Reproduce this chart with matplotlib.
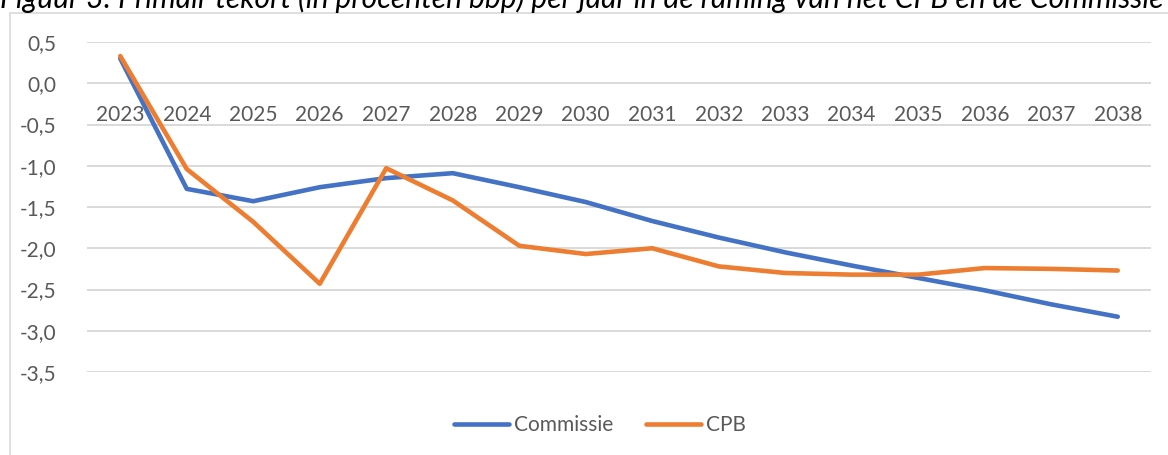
import matplotlib
matplotlib.use("Agg")
import matplotlib.pyplot as plt
from matplotlib.patches import Rectangle

plt.rcParams['font.family'] = ['Lato', 'DejaVu Sans']

# data
years = [str(y) for y in range(2023, 2039)]
commissie = [0.30, -1.28, -1.43, -1.26, -1.15, -1.09, -1.26, -1.44,
             -1.67, -1.87, -2.05, -2.21, -2.36, -2.51, -2.68, -2.83]
cpb = [0.33, -1.04, -1.68, -2.43, -1.03, -1.42, -1.97, -2.07,
       -2.00, -2.22, -2.30, -2.32, -2.32, -2.24, -2.25, -2.27]
yticks = [0.5, 0.0, -0.5, -1.0, -1.5, -2.0, -2.5, -3.0, -3.5]

title = ("Figuur 3: Primair tekort (in procenten bbp) per jaar in de raming "
         "van het CPB en de Commissie")

W, H = 1168, 455
fig = plt.figure(figsize=(W / 100, H / 100), dpi=100)

# chart frame (clipped at right and bottom like the source screenshot)
fig.patches.append(Rectangle((10 / W, -0.1), 1.2, 1 - 13 / H + 0.1,
                             transform=fig.transFigure, fill=False,
                             edgecolor='#d9d9d9', linewidth=1.2))

# title, cut off at the top edge as in the source
t = fig.text(0 / W, 1 - 8 / H, title, fontstyle='italic', color='black',
             fontsize=17, ha='left', va='baseline')
fig.canvas.draw()
w = t.get_window_extent().width
t.set_fontsize(17 * 1165 / w)

ax = fig.add_axes([87 / W, 1 - 372 / H, (1151 - 87) / W, (372 - 42) / H])
x = list(range(len(years)))
ax.plot(x, commissie, color='#4472C4', lw=3.3, solid_capstyle='round',
        solid_joinstyle='round', label='Commissie', zorder=3, clip_on=False)
ax.plot(x, cpb, color='#ED7D31', lw=3.3, solid_capstyle='round',
        solid_joinstyle='round', label='CPB', zorder=3, clip_on=False)

ax.set_xlim(-0.5, len(years) - 0.5)
ax.set_ylim(-3.5, 0.5)
ax.set_yticks(yticks)
ax.set_yticklabels([f"{v:.1f}".replace('.', ',') for v in yticks])
ax.grid(axis='y', color='#d9d9d9', lw=1.4)
ax.set_axisbelow(True)

for s in ['top', 'right', 'left']:
    ax.spines[s].set_visible(False)
ax.spines['bottom'].set_position(('data', 0))
ax.spines['bottom'].set_visible(False)

ax.set_xticks(x)
ax.set_xticklabels(years)
ax.tick_params(axis='x', length=0, pad=16, labelsize=15, labelcolor='#595959')
ax.tick_params(axis='y', length=0, pad=22, labelsize=15, labelcolor='#595959')
for lab in ax.get_xticklabels():
    lab.set_zorder(2)

fig.legend(loc='center', bbox_to_anchor=(600 / W, 1 - 425 / H), ncol=2,
           frameon=False, fontsize=15, handlelength=2.6, handletextpad=0.25,
           columnspacing=1.6, labelcolor='#595959')

fig.savefig('out.png', dpi=100)
